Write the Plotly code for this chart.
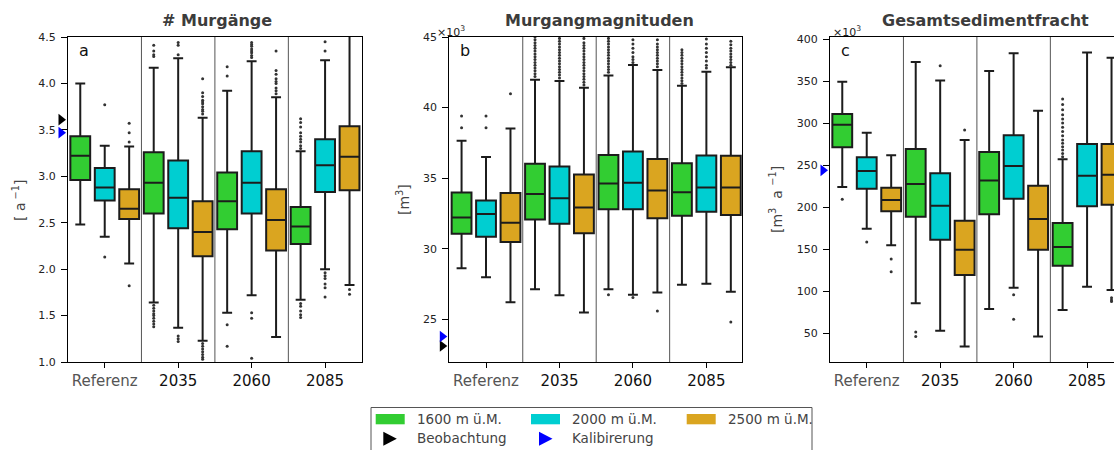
import plotly.graph_objects as go

W, H = 1114, 450
FONT = "DejaVu Sans"

groups = ["Referenz", "2035", "2060", "2085"]
hue_names = ["1600 m ü.M.", "2000 m ü.M.", "2500 m ü.M."]
hue_colors = ["#32CD32", "#00CED1", "#DAA520"]

# ---------------- Panel a: # Murgänge [a^-1] ----------------
a_lo_1600 = [2.48, 1.64, 1.53, 1.67]
a_q1_1600 = [2.96, 2.60, 2.43, 2.27]
a_md_1600 = [3.22, 2.93, 2.73, 2.46]
a_q3_1600 = [3.43, 3.26, 3.04, 2.67]
a_hi_1600 = [4.00, 4.17, 3.92, 3.27]
a_lo_2000 = [2.35, 1.37, 1.72, 2.00]
a_q1_2000 = [2.74, 2.44, 2.60, 2.83]
a_md_2000 = [2.88, 2.77, 2.93, 3.12]
a_q3_2000 = [3.09, 3.17, 3.27, 3.40]
a_hi_2000 = [3.33, 4.27, 4.24, 4.25]
a_lo_2500 = [2.06, 1.23, 1.27, 1.83]
a_q1_2500 = [2.54, 2.14, 2.20, 2.85]
a_md_2500 = [2.65, 2.40, 2.53, 3.21]
a_q3_2500 = [2.86, 2.73, 2.86, 3.54]
a_hi_2500 = [3.32, 3.63, 3.85, 4.60]
a_out_1600 = [[], [4.41, 4.35, 4.31, 4.29, 1.61, 1.58, 1.55, 1.52, 1.50, 1.47, 1.44, 1.41, 1.38],
              [4.18, 4.08, 1.40, 1.17],
              [3.62, 3.58, 3.53, 3.47, 3.43, 3.40, 3.37, 3.33, 3.30, 1.63, 1.60, 1.55, 1.51, 1.48]]
a_out_2000 = [[3.77, 2.13], [4.44, 4.41, 4.31, 1.28, 1.25, 1.22],
              [4.44, 4.42, 4.40, 4.37, 4.35, 4.33, 4.30, 4.28, 1.53, 1.47, 1.04],
              [4.45, 4.35, 1.96, 1.93, 1.90, 1.84, 1.80, 1.70]]
a_out_2500 = [[3.57, 3.47, 3.37, 1.82],
              [4.05, 3.90, 3.86, 3.82, 3.80, 3.78, 3.75, 3.72, 3.70, 3.67,
               1.20, 1.17, 1.14, 1.11, 1.08, 1.05, 1.03],
              [4.35, 4.14, 4.10, 4.05, 4.02, 4.00, 3.95, 3.92, 3.89],
              [1.78, 1.73]]
a_obs = [3.61]
a_cal = [3.47]
a_ticks = [1.0, 1.5, 2.0, 2.5, 3.0, 3.5, 4.0, 4.5]

# ---------------- Panel b: Murgangmagnituden [m3] x10^3 ----------------
b_lo_1600 = [28.62, 27.13, 27.13, 27.44]
b_q1_1600 = [31.05, 32.07, 32.80, 32.33]
b_md_1600 = [32.21, 33.87, 34.62, 34.00]
b_q3_1600 = [33.98, 36.02, 36.63, 36.06]
b_hi_1600 = [37.65, 41.97, 42.28, 41.55]
b_lo_2000 = [27.98, 26.70, 26.73, 27.51]
b_q1_2000 = [30.84, 31.76, 32.80, 32.61]
b_md_2000 = [32.45, 33.58, 34.67, 34.34]
b_q3_2000 = [33.42, 35.83, 36.89, 36.61]
b_hi_2000 = [36.49, 41.88, 43.01, 42.54]
b_lo_2500 = [26.21, 25.47, 26.89, 26.94]
b_q1_2500 = [30.48, 31.10, 32.16, 32.38]
b_md_2500 = [31.83, 32.92, 34.13, 34.34]
b_q3_2500 = [33.94, 35.26, 36.35, 36.58]
b_hi_2500 = [38.52, 41.41, 42.66, 42.85]
b_out_1600 = [[39.40, 38.57],
              [42.2, 42.4, 42.6, 42.8, 43.0, 43.2, 43.4, 43.6, 43.8, 44.0, 44.2, 44.4, 44.6, 44.8, 45.0],
              [42.5, 42.7, 42.9, 43.1, 43.3, 43.5, 43.7, 43.9, 44.1, 44.3, 44.5, 44.7, 44.9, 26.73],
              [41.7, 41.9, 42.1, 42.3, 42.5, 42.7, 42.9, 43.1, 43.3, 43.5, 43.7, 43.9, 44.1]]
b_out_2000 = [[39.40, 38.57],
              [42.1, 42.3, 42.5, 42.7, 42.9, 43.1, 43.3, 43.5, 43.7, 43.9, 44.1, 44.3, 44.5, 44.7, 44.9],
              [43.2, 43.4, 43.6, 43.9, 44.2, 44.5, 44.8, 26.54],
              [42.8, 43.0, 43.3, 43.6, 43.9, 44.2, 44.5, 44.86]]
b_out_2500 = [[40.98],
              [41.6, 41.8, 42.0, 42.2, 42.4, 42.6, 42.8, 43.0, 43.2, 43.4, 43.6, 43.8, 44.0, 44.2, 44.4, 44.6, 44.9],
              [42.9, 43.1, 43.3, 43.5, 43.7, 43.9, 44.1, 44.3, 44.5, 44.8, 25.59],
              [43.0, 43.2, 43.4, 43.6, 43.8, 44.0, 44.2, 44.45, 44.7, 24.81]]
b_obs = [23.11]
b_cal = [23.77]
b_ticks = [25, 30, 35, 40, 45]

# ---------------- Panel c: Gesamtsedimentfracht [m3 a^-1] x10^3 ----------------
c_lo_1600 = [224.0, 85.7, 79.0, 77.8]
c_q1_1600 = [271.2, 188.7, 191.5, 130.5]
c_md_1600 = [298.1, 227.6, 231.6, 152.7]
c_q3_1600 = [310.8, 269.2, 265.6, 181.2]
c_hi_1600 = [349.3, 372.7, 362.0, 256.9]
c_lo_2000 = [174.5, 53.2, 104.3, 105.5]
c_q1_2000 = [222.0, 161.4, 210.1, 201.0]
c_md_2000 = [243.0, 201.8, 249.0, 237.5]
c_q3_2000 = [259.3, 240.3, 285.5, 275.2]
c_hi_2000 = [288.6, 350.8, 383.0, 384.1]
c_lo_2500 = [154.7, 34.2, 46.1, 101.6]
c_q1_2500 = [195.1, 119.4, 149.5, 203.0]
c_md_2500 = [208.6, 149.5, 186.0, 238.7]
c_q3_2500 = [223.2, 184.0, 225.6, 275.2]
c_hi_2500 = [261.7, 279.9, 314.8, 377.8]
c_out_1600 = [[209.4], [51.6, 46.1], [],
              [328.7, 322.0, 316.0, 310.0, 305.0, 300.0, 295.0, 290.0, 285.0,
               280.0, 276.0, 272.0, 268.0, 264.0, 260.0]]
c_out_2000 = [[158.6], [368.3], [96.0, 66.7], []]
c_out_2500 = [[138.4, 123.3], [291.8], [], [92.4, 89.5, 87.7]]
c_obs = []
c_cal = [243.8]
c_ticks = [50, 100, 150, 200, 250, 300, 350, 400]

panels = [
    dict(title="# Murgänge", letter="a", ytitle="[ a<sup> −1</sup>]",
         lo=[a_lo_1600, a_lo_2000, a_lo_2500], q1=[a_q1_1600, a_q1_2000, a_q1_2500],
         md=[a_md_1600, a_md_2000, a_md_2500], q3=[a_q3_1600, a_q3_2000, a_q3_2500],
         hi=[a_hi_1600, a_hi_2000, a_hi_2500], out=[a_out_1600, a_out_2000, a_out_2500],
         obs=a_obs, cal=a_cal, ticks=a_ticks, fmt="{:.1f}", yrange=[1.0, 4.5],
         left=68.0, right=362.0, mirror_right=True, sci=False,
         title_x=217, ytitle_x=19, letter_x=77),
    dict(title="Murgangmagnituden", letter="b", ytitle="[m<sup>3</sup>]",
         lo=[b_lo_1600, b_lo_2000, b_lo_2500], q1=[b_q1_1600, b_q1_2000, b_q1_2500],
         md=[b_md_1600, b_md_2000, b_md_2500], q3=[b_q3_1600, b_q3_2000, b_q3_2500],
         hi=[b_hi_1600, b_hi_2000, b_hi_2500], out=[b_out_1600, b_out_2000, b_out_2500],
         obs=b_obs, cal=b_cal, ticks=b_ticks, fmt="{:.0f}", yrange=[21.97, 45.0],
         left=449.3, right=742.3, mirror_right=True, sci=True, sci_x=435,
         title_x=599, ytitle_x=403, letter_x=458),
    dict(title="Gesamtsedimentfracht", letter="c", ytitle="[m<sup>3</sup>  a <sup>−1</sup>]",
         lo=[c_lo_1600, c_lo_2000, c_lo_2500], q1=[c_q1_1600, c_q1_2000, c_q1_2500],
         md=[c_md_1600, c_md_2000, c_md_2500], q3=[c_q3_1600, c_q3_2000, c_q3_2500],
         hi=[c_hi_1600, c_hi_2000, c_hi_2500], out=[c_out_1600, c_out_2000, c_out_2500],
         obs=c_obs, cal=c_cal, ticks=c_ticks, fmt="{:.0f}", yrange=[15.9, 402.4],
         left=830.0, right=1114.0, mirror_right=False, sci=True, sci_x=831,
         title_x=985, ytitle_x=776, letter_x=839),
]

GROUP_PX = 73.45
TOP_PX, BOT_PX = 37.0, 362.0
OFFSETS = [-0.333, 0.0, 0.333]
BOX_W = 0.27
MARK_STRIP = 16.0  # width (px) of the strip left of each y axis holding the triangles


def fx(px):
    return px / W


def fy(py):
    return 1 - py / H


fig = go.Figure()
annotations = []
shapes = []
layout_axes = {}

for i, p in enumerate(panels):
    n = "" if i == 0 else str(i + 1)
    xref, yref = "x" + n, "y" + n
    xr = [-0.5, -0.5 + (p["right"] - p["left"]) / GROUP_PX]
    for h in range(3):
        xs = [g + OFFSETS[h] for g in range(len(groups))]
        fig.add_trace(go.Box(
            x=xs, q1=p["q1"][h], median=p["md"][h], q3=p["q3"][h],
            lowerfence=p["lo"][h], upperfence=p["hi"][h],
            width=BOX_W, whiskerwidth=0.5, fillcolor=hue_colors[h],
            line=dict(color="#1c1c1c", width=2), name=hue_names[h],
            showlegend=False, xaxis=xref, yaxis=yref, hoverinfo="skip"))
        ox, oy = [], []
        for g in range(len(groups)):
            for v in p["out"][h][g]:
                ox.append(g + OFFSETS[h])
                oy.append(v)
        fig.add_trace(go.Scatter(
            x=ox, y=oy, mode="markers", marker=dict(size=3, color="#333333"),
            showlegend=False, xaxis=xref, yaxis=yref, hoverinfo="skip"))

    # strip axis left of the y axis for the observation / calibration markers
    sref = "x" + str(4 + i)
    layout_axes["xaxis" + str(4 + i)] = dict(
        domain=[fx(p["left"] - MARK_STRIP), fx(p["left"])], range=[0, MARK_STRIP],
        anchor=yref, visible=False, showgrid=False, zeroline=False, automargin=False)
    tri_x = MARK_STRIP - 7.0
    if p["obs"]:
        fig.add_trace(go.Scatter(
            x=[tri_x] * len(p["obs"]), y=p["obs"], mode="markers", cliponaxis=False,
            marker=dict(symbol="triangle-right", size=10, color="black"),
            showlegend=False, xaxis=sref, yaxis=yref, hoverinfo="skip"))
    if p["cal"]:
        fig.add_trace(go.Scatter(
            x=[tri_x] * len(p["cal"]), y=p["cal"], mode="markers", cliponaxis=False,
            marker=dict(symbol="triangle-right", size=10, color="#0000ff"),
            showlegend=False, xaxis=sref, yaxis=yref, hoverinfo="skip"))

    layout_axes["xaxis" + n] = dict(
        domain=[fx(p["left"]), fx(p["right"])], range=xr, anchor=yref,
        tickmode="array", tickvals=list(range(len(groups))),
        ticktext=['<span style="color:#555555">' + groups[0] + '</span>'] + groups[1:],
        tickfont=dict(family=FONT, size=15, color="#111111"),
        ticks="outside", ticklen=5, tickwidth=1.2, tickcolor="black",
        showline=True, linecolor="black", linewidth=1.2, mirror=True,
        showgrid=False, zeroline=False, automargin=False)
    layout_axes["yaxis" + n] = dict(
        domain=[fy(BOT_PX), fy(TOP_PX)], range=p["yrange"], anchor=xref,
        tickmode="array", tickvals=p["ticks"], ticktext=[p["fmt"].format(t) for t in p["ticks"]],
        tickfont=dict(family=FONT, size=11, color="#222222"),
        ticks="outside", ticklen=6, tickwidth=1.2, tickcolor="black", ticklabelstandoff=3,
        showline=True, linecolor="black", linewidth=1.2, mirror=p["mirror_right"],
        showgrid=False, zeroline=False, automargin=False)

    for sep in [0.5, 1.5, 2.5]:
        shapes.append(dict(type="line", xref=xref, yref=yref + " domain", x0=sep, x1=sep,
                           y0=0, y1=1, line=dict(color="#555555", width=1), layer="below"))

    annotations.append(dict(text="<b>" + p["title"] + "</b>", x=fx(p["title_x"]), y=fy(20.5),
                            xref="paper", yref="paper", showarrow=False, xanchor="center",
                            yanchor="middle", font=dict(family=FONT, size=16, color="#3c3c3c")))
    annotations.append(dict(text=p["letter"], x=fx(p["letter_x"]), y=fy(51), xref="paper",
                            yref="paper", showarrow=False, xanchor="left", yanchor="middle",
                            font=dict(family=FONT, size=16, color="#111111")))
    annotations.append(dict(text=p["ytitle"], x=fx(p["ytitle_x"]), y=fy(200), xref="paper",
                            yref="paper", showarrow=False, textangle=-90, xanchor="center",
                            yanchor="middle", font=dict(family=FONT, size=14, color="#444444")))
    if p["sci"]:
        annotations.append(dict(text="×10<sup>3</sup>", x=fx(p["sci_x"]), y=fy(31), xref="paper",
                                yref="paper", showarrow=False, xanchor="left", yanchor="middle",
                                font=dict(family=FONT, size=11, color="#222222")))

# ---------------- manual legend ----------------
shapes.append(dict(type="rect", xref="paper", yref="paper", x0=fx(371), x1=fx(812),
                   y0=fy(460), y1=fy(407.5), line=dict(color="#555555", width=1),
                   fillcolor="white", layer="above"))
patch_x = [375.7, 531.0, 686.7]
text_x = [415.0, 570.0, 726.0]
for h in range(3):
    shapes.append(dict(type="rect", xref="paper", yref="paper", x0=fx(patch_x[h]),
                       x1=fx(patch_x[h] + 29), y0=fy(424.3), y1=fy(414.0),
                       line=dict(width=0), fillcolor=hue_colors[h], layer="above"))
    annotations.append(dict(text=hue_names[h], x=fx(text_x[h]), y=fy(419), xref="paper",
                            yref="paper", showarrow=False, xanchor="left", yanchor="middle",
                            font=dict(family=FONT, size=13.5, color="#444444")))
for tx, col, lab, lx in [(383.3, "black", "Beobachtung", 415.0), (539.0, "#0000ff", "Kalibirerung", 570.0)]:
    path = "M {:.5f},{:.5f} L {:.5f},{:.5f} L {:.5f},{:.5f} Z".format(
        fx(tx), fy(431.8), fx(tx + 13.5), fy(438.8), fx(tx), fy(445.8))
    shapes.append(dict(type="path", xref="paper", yref="paper", path=path,
                       fillcolor=col, line=dict(width=0), layer="above"))
    annotations.append(dict(text=lab, x=fx(lx), y=fy(438), xref="paper", yref="paper",
                            showarrow=False, xanchor="left", yanchor="middle",
                            font=dict(family=FONT, size=13.5, color="#444444")))

fig.update_layout(
    width=W, height=H, margin=dict(l=0, r=0, t=0, b=0, pad=0),
    paper_bgcolor="white", plot_bgcolor="white", boxmode="overlay",
    showlegend=False, annotations=annotations, shapes=shapes,
    font=dict(family=FONT), **layout_axes)

fig.write_html("out.html")
